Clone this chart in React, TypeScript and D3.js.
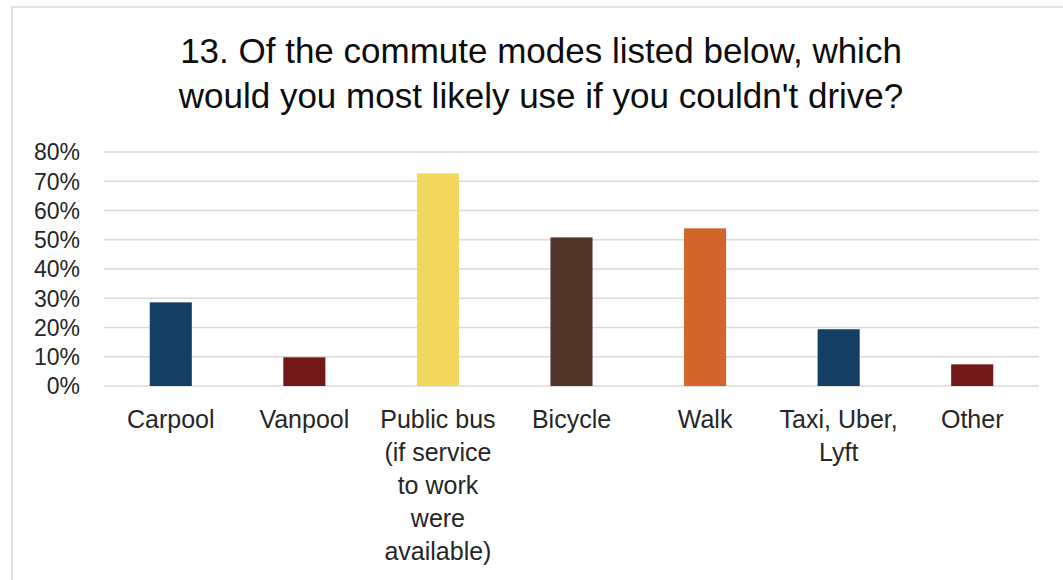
import React from 'react';
import * as d3 from 'd3';

const categories = ['Carpool', 'Vanpool', 'Public bus', 'Bicycle', 'Walk', 'Taxi, Uber, Lyft', 'Other'];
const categoryLines = [
  ['Carpool'],
  ['Vanpool'],
  ['Public bus', '(if service', 'to work', 'were', 'available)'],
  ['Bicycle'],
  ['Walk'],
  ['Taxi, Uber,', 'Lyft'],
  ['Other'],
];
const shares = [0.286, 0.098, 0.727, 0.508, 0.539, 0.194, 0.074];
const barColors = ['#153E64', '#721817', '#F1D75C', '#513428', '#D2652B', '#153E64', '#721817'];
const yTicks = [0, 0.1, 0.2, 0.3, 0.4, 0.5, 0.6, 0.7, 0.8];
const titleLines = [
  '13. Of the commute modes listed below, which',
  "would you most likely use if you couldn't drive?",
];

const width = 1063;
const height = 580;
const margin = { top: 152, right: 24, bottom: 194, left: 104 };
const font = "'Liberation Sans', Arial, sans-serif";

export default function App() {
  const x = d3
    .scaleBand<string>()
    .domain(categories)
    .range([margin.left, width - margin.right])
    .paddingInner(0.685)
    .paddingOuter(0.3425);

  const y = d3
    .scaleLinear()
    .domain([0, 0.8])
    .range([height - margin.bottom, margin.top]);

  const fmt = d3.format('.0%');

  return (
    <svg
      width={width}
      height={height}
      style={{ position: 'absolute', left: 0, top: 0, background: '#fff' }}
    >
      <rect x={12} y={7} width={width} height={height} fill='#fff' stroke='#d9d9d9' strokeWidth={1.5} />
      {titleLines.map((t, i) => (
        <text
          key={i}
          x={541}
          y={62.5 + i * 45.5}
          textAnchor='middle'
          fontFamily={font}
          fontSize={35}
          fill='#0d0d0d'
        >
          {t}
        </text>
      ))}
      {yTicks.map((t) => (
        <g key={t}>
          <line
            x1={margin.left}
            x2={width - margin.right}
            y1={y(t)}
            y2={y(t)}
            stroke='#d9d9d9'
            strokeWidth={1.5}
          />
          <text
            x={80}
            y={y(t)}
            dy='0.36em'
            textAnchor='end'
            fontFamily={font}
            fontSize={23}
            fill='#262626'
          >
            {fmt(t)}
          </text>
        </g>
      ))}
      {categories.map((c, i) => (
        <rect
          key={c}
          x={x(c)}
          y={y(shares[i])}
          width={x.bandwidth()}
          height={y(0) - y(shares[i])}
          fill={barColors[i]}
        />
      ))}
      {categories.map((c, i) => (
        <text
          key={c}
          x={(x(c) || 0) + x.bandwidth() / 2}
          textAnchor='middle'
          fontFamily={font}
          fontSize={25}
          fill='#262626'
        >
          {categoryLines[i].map((l, j) => (
            <tspan key={j} x={(x(c) || 0) + x.bandwidth() / 2} y={428 + j * 33}>
              {l}
            </tspan>
          ))}
        </text>
      ))}
    </svg>
  );
}
